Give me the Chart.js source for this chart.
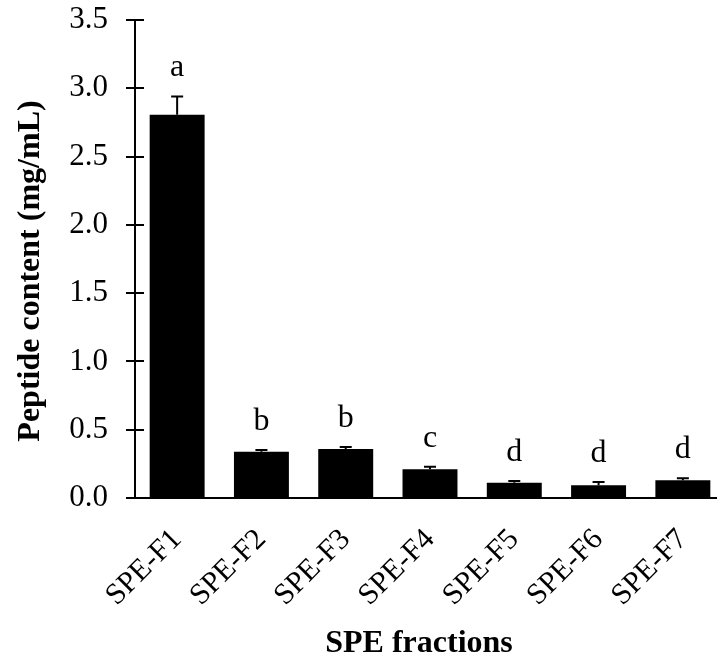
<!DOCTYPE html>
<html>
<head>
<meta charset="utf-8">
<script src="https://cdn.jsdelivr.net/npm/chart.js@4"></script>
<style>
  html, body { margin: 0; padding: 0; background: #fff; overflow: hidden; }
  #wrap { position: absolute; left: 0; top: 0; width: 730px; height: 659px; }
</style>
</head>
<body>
<div id="wrap"><canvas id="c"></canvas></div>
<script>
const categories = ['SPE-F1', 'SPE-F2', 'SPE-F3', 'SPE-F4', 'SPE-F5', 'SPE-F6', 'SPE-F7'];
const means = [2.807, 0.339, 0.358, 0.21, 0.112, 0.093, 0.13];
const errors = [0.133, 0.012, 0.015, 0.019, 0.012, 0.024, 0.014];
const letters = ['a', 'b', 'b', 'c', 'd', 'd', 'd'];
const yTickValues = [0.0, 0.5, 1.0, 1.5, 2.0, 2.5, 3.0, 3.5];
const xTitle = 'SPE fractions';
const yTitle = 'Peptide content (mg/mL)';

const SERIF = '"Liberation Serif", "Times New Roman", Times, serif';

const decor = {
  id: 'decor',
  afterDraw(chart) {
    const ctx = chart.ctx;
    const x = chart.scales.x, y = chart.scales.y;
    const axisX = y.right;
    ctx.save();
    // inner halves of y ticks
    ctx.strokeStyle = '#000';
    ctx.lineWidth = 2;
    yTickValues.forEach(v => {
      const py = Math.round(y.getPixelForValue(v));
      ctx.beginPath();
      ctx.moveTo(axisX - 1, py);
      ctx.lineTo(axisX + 9, py);
      ctx.stroke();
    });
    // error bars and letters
    means.forEach((m, i) => {
      const cx = x.getPixelForValue(i);
      const top = y.getPixelForValue(m + errors[i]);
      const base = y.getPixelForValue(m);
      ctx.beginPath();
      ctx.moveTo(cx, base);
      ctx.lineTo(cx, top);
      ctx.moveTo(cx - 6, top);
      ctx.lineTo(cx + 6, top);
      ctx.stroke();
      ctx.fillStyle = '#000';
      ctx.font = '32px ' + SERIF;
      ctx.textAlign = 'center';
      ctx.textBaseline = 'alphabetic';
      ctx.fillText(letters[i], cx, top - 20);
    });
    // axis titles
    ctx.font = 'bold 32px ' + SERIF;
    ctx.textAlign = 'center';
    ctx.textBaseline = 'alphabetic';
    ctx.fillText(xTitle, 419, 652);
    ctx.translate(39, 271);
    ctx.rotate(-Math.PI / 2);
    ctx.fillText(yTitle, 0, 0);
    ctx.restore();
  }
};

new Chart(document.getElementById('c'), {
  type: 'bar',
  data: {
    labels: categories,
    datasets: [{
      data: means,
      backgroundColor: '#000',
      borderWidth: 0,
      categoryPercentage: 1.0,
      barPercentage: 0.652
    }]
  },
  options: {
    responsive: true,
    maintainAspectRatio: false,
    animation: false,
    devicePixelRatio: 1,
    layout: { padding: { top: 20, right: 5, left: 0, bottom: 0 } },
    plugins: { legend: { display: false }, tooltip: { enabled: false } },
    scales: {
      x: {
        offset: true,
        grid: { display: false },
        border: { display: true, color: '#000', width: 2 },
        ticks: {
          color: '#000',
          font: { family: SERIF, size: 30 },
          minRotation: 45,
          maxRotation: 45,
          autoSkip: false,
          padding: 16
        },
        afterFit(scale) { scale.height = 161; scale.paddingLeft = 0; scale.paddingRight = 0; }
      },
      y: {
        min: 0,
        max: 3.5,
        afterBuildTicks(scale) { scale.ticks = yTickValues.map(v => ({ value: v })); },
        grid: { display: true, drawOnChartArea: false, drawTicks: true, tickLength: 9, color: '#000', lineWidth: 2 },
        border: { display: true, color: '#000', width: 2 },
        ticks: {
          color: '#000',
          font: { family: SERIF, size: 31 },
          padding: 18,
          callback: v => Number(v).toFixed(1)
        },
        afterFit(scale) { scale.width = 135; scale.paddingTop = 0; scale.paddingBottom = 0; }
      }
    }
  },
  plugins: [decor]
});
</script>
</body>
</html>
